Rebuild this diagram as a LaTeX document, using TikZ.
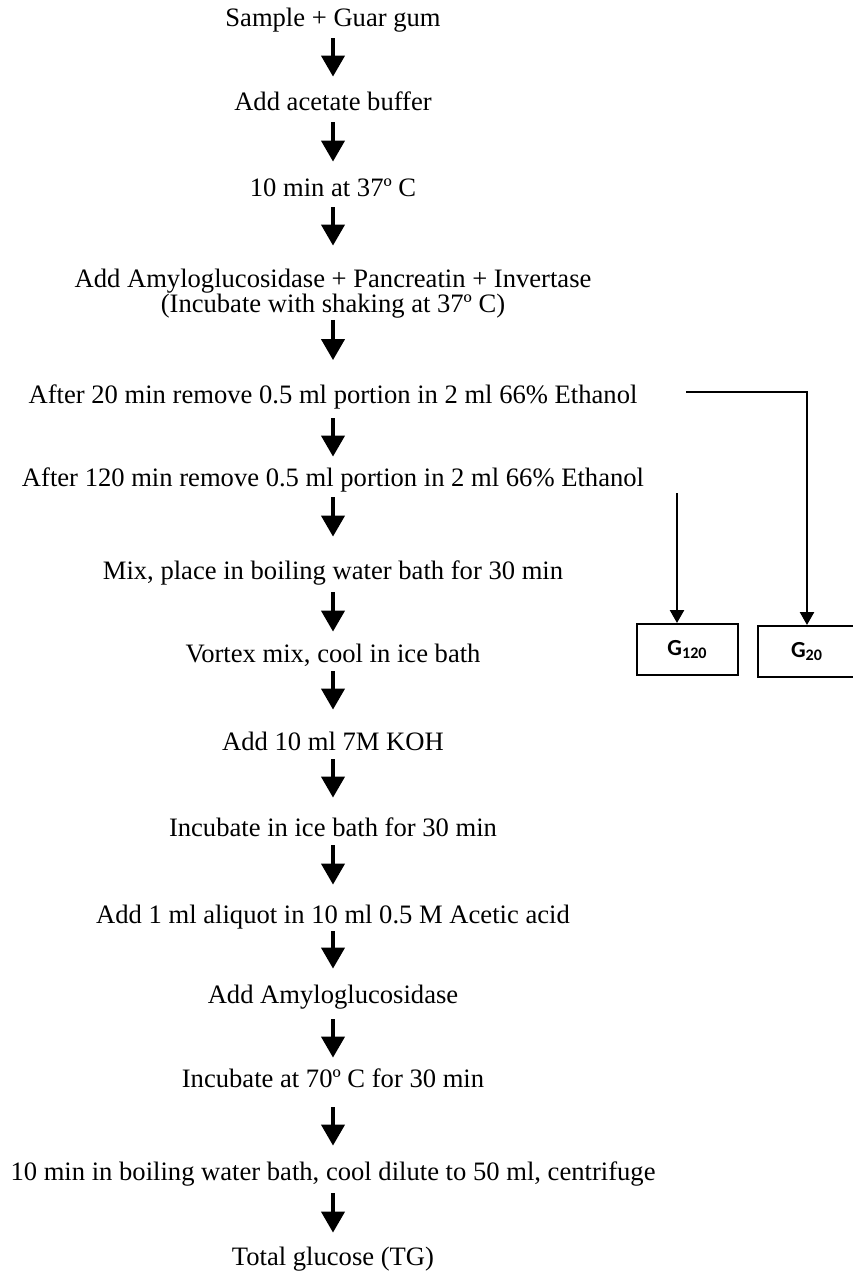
\documentclass[tikz,border=0pt]{standalone}
\usepackage{fontspec}
\setmainfont{Liberation Serif}
\newfontfamily\gboxfont{Carlito}
\usetikzlibrary{arrows.meta,calc}
\newcommand\flowarrow[4]{\draw[flow, shorten <=#3pt, shorten >=#4pt] (#1.south) -- (#2.north);}
\begin{document}
\begin{tikzpicture}[x=0.5pt,y=-0.5pt,
  stepnode/.style={inner sep=0pt, text height=7pt, text depth=2.5pt, font=\fontsize{13.3}{15}\selectfont},
  flow/.style={line width=2pt, -{Triangle[width=11.5pt,length=10.5pt]}},
  side/.style={line width=1.25pt, -{Triangle[width=7pt,length=6.5pt]}},
  gbox/.style={draw, line width=1pt, inner sep=0pt, minimum height=25.5pt, font=\gboxfont\bfseries\fontsize{11.5}{13}\selectfont}]
\useasboundingbox (0,0) rectangle (852,1275);
\node[stepnode] (t1) at (333,22) {Sample + Guar gum};
\node[stepnode] (t2) at (333,106) {Add acetate buffer};
\node[stepnode] (t3) at (333,192) {10 min at 37º C};
\node[stepnode] (t4a) at (333,283) {Add Amyloglucosidase + Pancreatin + Invertase};
\node[stepnode] (t4b) at (333,308) {(Incubate with shaking at 37º C)};
\node[stepnode] (t5) at (333,399) {After 20 min remove 0.5 ml portion in 2 ml 66\% Ethanol};
\node[stepnode] (t6) at (333,482) {After 120 min remove 0.5 ml portion in 2 ml 66\% Ethanol};
\node[stepnode] (t7) at (333,575) {Mix, place in boiling water bath for 30 min};
\node[stepnode] (t8) at (333,658) {Vortex mix, cool in ice bath};
\node[stepnode] (t9) at (333,746) {Add 10 ml 7M KOH};
\node[stepnode] (t10) at (333,832) {Incubate in ice bath for 30 min};
\node[stepnode] (t11) at (333,919) {Add 1 ml aliquot in 10 ml 0.5 M Acetic acid};
\node[stepnode] (t12) at (333,999) {Add Amyloglucosidase};
\node[stepnode] (t13) at (333,1083) {Incubate at 70º C for 30 min};
\node[stepnode] (t14) at (333,1176) {10 min in boiling water bath, cool dilute to 50 ml, centrifuge};
\node[stepnode] (t15) at (333,1261) {Total glucose (TG)};
\flowarrow{t1}{t2}{3.25}{9.75}
\flowarrow{t2}{t3}{3.25}{10.25}
\flowarrow{t3}{t4a}{2.75}{13.75}
\flowarrow{t4b}{t5}{1}{14.5}
\flowarrow{t5}{t6}{4.75}{7.75}
\flowarrow{t6}{t7}{2.75}{14.25}
\flowarrow{t7}{t8}{3.75}{8.25}
\flowarrow{t8}{t9}{1.75}{13.25}
\flowarrow{t9}{t10}{1.75}{12.25}
\flowarrow{t10}{t11}{1.75}{12.25}
\flowarrow{t11}{t12}{1.25}{10.25}
\flowarrow{t12}{t13}{5.25}{7.75}
\flowarrow{t13}{t14}{7.25}{10.25}
\flowarrow{t14}{t15}{3.75}{9.25}
\node[gbox, minimum width=50.5pt] (g120) at (687.5,649.5) {G\textsubscript{120}};
\node[gbox, minimum width=49pt] (g20) at (807,651.5) {G\textsubscript{20}};
\coordinate (e20) at (686,392);
\coordinate (e120) at (677,493);
\draw[side] (e20) -| (g20.north);
\draw[side] (e120) -- (e120 |- g120.north);
\end{tikzpicture}
\end{document}
